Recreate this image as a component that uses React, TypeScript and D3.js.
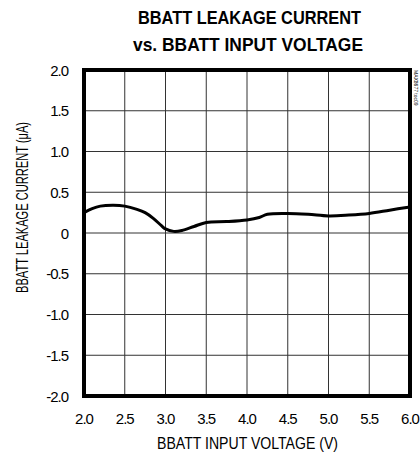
import React from "react";
import * as d3 from "d3";

const voltage = [2.0, 2.1, 2.2, 2.36, 2.5, 2.65, 2.75, 2.85, 2.95, 3.0, 3.1, 3.2, 3.35, 3.5, 3.75, 4.0, 4.15, 4.25, 4.5, 4.75, 5.0, 5.25, 5.5, 5.75, 6.0];
const current = [0.25, 0.30, 0.33, 0.34, 0.33, 0.29, 0.25, 0.18, 0.09, 0.05, 0.02, 0.03, 0.08, 0.13, 0.14, 0.16, 0.19, 0.23, 0.24, 0.23, 0.21, 0.22, 0.24, 0.28, 0.32];
const xTicks = [2.0, 2.5, 3.0, 3.5, 4.0, 4.5, 5.0, 5.5, 6.0];
const yTicks = [2.0, 1.5, 1.0, 0.5, 0, -0.5, -1.0, -1.5, -2.0];
const xTickLabels = ["2.0", "2.5", "3.0", "3.5", "4.0", "4.5", "5.0", "5.5", "6.0"];
const yTickLabels = ["2.0", "1.5", "1.0", "0.5", "0", "-0.5", "-1.0", "-1.5", "-2.0"];

export default function App() {
  const W = 420, H = 455;
  const L = 84, R = 410, T = 70, B = 396;
  const x = d3.scaleLinear().domain([2, 6]).range([L, R]);
  const y = d3.scaleLinear().domain([-2, 2]).range([B, T]);
  const line = d3.line<number>()
    .x((_, i) => x(voltage[i]))
    .y((d) => y(d))
    .curve(d3.curveCatmullRom.alpha(0.5));
  const font = "'Liberation Sans', Arial, sans-serif";
  return (
    <svg width={W} height={H} style={{ position: "absolute", left: 0, top: 0 }} fontFamily={font}>
      <rect width={W} height={H} fill="#fff" />
      <text x={138} y={24} fontSize={19} fontWeight="bold" textLength={223} lengthAdjust="spacingAndGlyphs">BBATT LEAKAGE CURRENT</text>
      <text x={133} y={51} fontSize={19} fontWeight="bold" textLength={230} lengthAdjust="spacingAndGlyphs">vs. BBATT INPUT VOLTAGE</text>
      {xTicks.slice(1, -1).map((t) => (
        <line key={"gx" + t} x1={x(t)} x2={x(t)} y1={T} y2={B} stroke="#333" strokeWidth={1} />
      ))}
      {yTicks.slice(1, -1).map((t) => (
        <line key={"gy" + t} x1={L} x2={R} y1={y(t)} y2={y(t)} stroke="#333" strokeWidth={1} />
      ))}
      <path d={line(current) || ""} fill="none" stroke="#000" strokeWidth={3} strokeLinejoin="round" />
      <rect x={L} y={T} width={R - L} height={B - T} fill="none" stroke="#000" strokeWidth={4} />
      {yTicks.map((t, i) => (
        <text key={"yl" + t} x={68} y={y(t) + 5.5} textAnchor="end" fontSize={15} letterSpacing={-1}>{yTickLabels[i]}</text>
      ))}
      {xTicks.map((t, i) => (
        <text key={"xl" + t} x={x(t)} y={424} textAnchor="middle" fontSize={15} letterSpacing={-1}>{xTickLabels[i]}</text>
      ))}
      <text x={157} y={449} fontSize={16} textLength={181} lengthAdjust="spacingAndGlyphs">BBATT INPUT VOLTAGE (V)</text>
      <text transform={`translate(28,293) rotate(-90)`} fontSize={16} textLength={171} lengthAdjust="spacingAndGlyphs">BBATT LEAKAGE CURRENT (μA)</text>
      <text transform={`translate(414,70) rotate(90)`} fontSize={5}>MAX8677 toc09</text>
    </svg>
  );
}
